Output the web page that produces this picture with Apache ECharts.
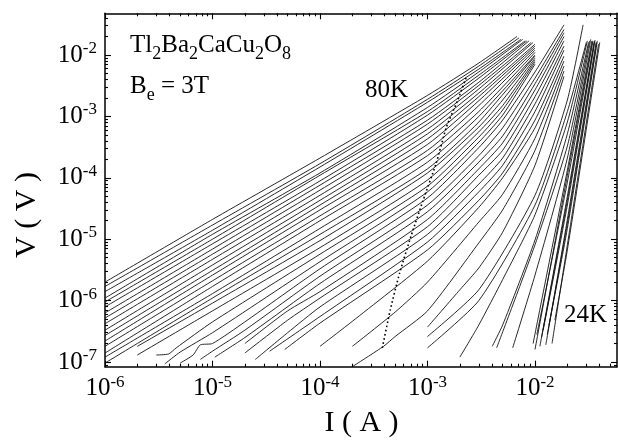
<!DOCTYPE html>
<html>
<head>
<meta charset="utf-8">
<script src="https://cdn.jsdelivr.net/npm/echarts@6/dist/echarts.min.js"></script>
<style>
  html, body { margin: 0; padding: 0; background: #fff; }
  #chart { width: 618px; height: 440px; }
</style>
</head>
<body>
<div id="chart"></div>
<script>
// V–I isotherms of Tl2Ba2CaCu2O8 at Be = 3 T, from 80 K (top left) down to 24 K (steep, right).
// Each point is [current I (A), voltage V (V)].
const c01 = [[1e-6,2.0e-6],[1e-5,2.1e-5],[1e-4,2.1e-4],[1e-3,2.2e-3],[3e-3,7.4e-3],[6.8e-3,2.0e-2]];
const c02 = [[1e-6,1.7e-6],[1e-5,1.7e-5],[1e-4,1.7e-4],[1e-3,1.9e-3],[3e-3,6.6e-3],[7.1e-3,1.9e-2]];
const c03 = [[1e-6,1.4e-6],[1e-5,1.4e-5],[1e-4,1.5e-4],[1e-3,1.7e-3],[3e-3,5.9e-3],[7.4e-3,1.8e-2]];
const c04 = [[1e-6,1.1e-6],[1e-5,1.2e-5],[1e-4,1.2e-4],[1e-3,1.4e-3],[3e-3,5.3e-3],[7.7e-3,1.8e-2]];
const c05 = [[1e-6,9.5e-7],[1e-5,1.0e-5],[1e-4,1.1e-4],[1e-3,1.2e-3],[3e-3,4.7e-3],[8.1e-3,1.7e-2]];
const c06 = [[1e-6,7.9e-7],[1e-5,8.4e-6],[1e-4,8.9e-5],[1e-3,1.05e-3],[3e-3,4.2e-3],[8.4e-3,1.7e-2]];
const c07 = [[1e-6,6.3e-7],[1e-5,6.9e-6],[1e-4,7.6e-5],[1e-3,8.7e-4],[3e-3,3.6e-3],[8.8e-3,1.7e-2]];
const c08 = [[1e-6,5.2e-7],[1e-5,5.7e-6],[1e-4,6.3e-5],[1e-3,7.5e-4],[3e-3,3.2e-3],[9.2e-3,1.6e-2]];
const c09 = [[1e-6,4.2e-7],[1e-5,4.7e-6],[1e-4,5.2e-5],[1e-3,6.2e-4],[3e-3,2.8e-3],[9.6e-3,1.6e-2]];
const c10 = [[1e-6,3.3e-7],[1e-5,3.8e-6],[1e-4,4.3e-5],[1e-3,5.2e-4],[3e-3,2.4e-3],[1e-2,1.5e-2]];
const c11 = [[1e-6,2.7e-7],[1e-5,3.1e-6],[1e-4,3.6e-5],[1e-3,4.3e-4],[3e-3,2.1e-3],[1e-2,1.4e-2]];
const c12 = [[1e-6,2.2e-7],[1e-5,2.6e-6],[1e-4,3.0e-5],[1e-3,3.5e-4],[3e-3,1.8e-3],[1e-2,1.3e-2]];
const c13 = [[1e-6,1.8e-7],[1e-5,2.1e-6],[1e-4,2.4e-5],[1e-3,2.8e-4],[3e-3,1.5e-3],[1e-2,1.2e-2]];
const c14 = [[1e-6,1.4e-7],[1e-5,1.7e-6],[1e-4,2.0e-5],[1e-3,2.3e-4],[3e-3,1.2e-3],[1e-2,1.1e-2]];
const c15 = [[1e-6,1.2e-7],[1e-5,1.3e-6],[1e-4,1.5e-5],[1e-3,1.8e-4],[3e-3,1.0e-3],[1e-2,1.0e-2]];
const c16 = [[1e-6,9.6e-8],[1e-5,1.1e-6],[1e-4,1.2e-5],[1e-3,1.4e-4],[3e-3,8.1e-4],[1e-2,9.6e-3]];
const c17 = [[2e-6,1.8e-7],[1e-5,9.1e-7],[1e-4,9.5e-6],[1e-3,1.2e-4],[3e-3,6.7e-4],[5e-3,1.85e-3],[1e-2,8.9e-3]];
const c18 = [[2e-6,1.3e-7],[1e-5,6.8e-7],[1e-4,7.3e-6],[1e-3,9.2e-5],[3e-3,5.6e-4],[5e-3,1.5e-3],[1e-2,8.3e-3]];
const c19 = [[3.0e-6,1.3e-7],[3.9e-6,1.35e-7],[4.6e-6,1.7e-7],[1e-5,4.5e-7],[1e-4,5.7e-6],[1e-3,7.3e-5],[3e-3,4.6e-4],[5e-3,1.27e-3],[1e-2,7.7e-3]];
const c20 = [[3.6e-6,9.3e-8],[5e-6,1.45e-7],[1e-5,3.0e-7],[1e-4,4.3e-6],[1e-3,5.9e-5],[3e-3,3.8e-4],[5e-3,1.05e-3],[1e-2,7.1e-3]];
const c21 = [[5e-6,9.6e-8],[6.6e-6,1.3e-7],[7.7e-6,1.9e-7],[1e-5,2.0e-7],[2e-5,4.5e-7],[1e-4,3.3e-6],[1e-3,4.7e-5],[3e-3,3.1e-4],[5e-3,8.7e-4],[1e-2,5.3e-3],[1.86e-2,3.1e-2]];
const c22 = [[7.7e-6,1.1e-7],[1e-5,1.5e-7],[2e-5,3.3e-7],[1e-4,2.5e-6],[1e-3,3.6e-5],[3e-3,2.3e-4],[5e-3,6.5e-4],[1e-2,4.2e-3],[1.86e-2,2.6e-2]];
const c23 = [[1.05e-5,1.2e-7],[2e-5,2.5e-7],[1e-4,1.9e-6],[1e-3,2.8e-5],[3e-3,1.8e-4],[5e-3,4.8e-4],[1e-2,3.4e-3],[1.86e-2,2.3e-2]];
const c24 = [[2e-5,2.0e-7],[5e-5,6.8e-7],[1e-4,1.4e-6],[1e-3,2.1e-5],[3e-3,1.4e-4],[5e-3,3.7e-4],[1e-2,2.7e-3],[1.86e-2,2.0e-2]];
const c25 = [[2e-5,1.4e-7],[5e-5,4.8e-7],[1e-4,1.1e-6],[1e-3,1.6e-5],[3e-3,1.1e-4],[5e-3,2.8e-4],[1e-2,2.1e-3],[1.86e-2,1.7e-2]];
const c26 = [[2.5e-5,1.1e-7],[5e-5,3.0e-7],[1e-4,7.9e-7],[1e-3,1.2e-5],[3e-3,7.9e-5],[5e-3,2.1e-4],[1e-2,1.6e-3],[1.86e-2,1.4e-2]];
const c27 = [[3.4e-5,1.5e-7],[1e-4,5.5e-7],[1e-3,9.0e-6],[3e-3,5.9e-5],[5e-3,1.6e-4],[1e-2,1.2e-3],[1.86e-2,1.2e-2]];
const c28 = [[4.7e-5,1.6e-7],[1e-4,4.3e-7],[1e-3,6.7e-6],[3e-3,4.3e-5],[5e-3,1.2e-4],[1e-2,8.7e-4],[1.86e-2,9.6e-3]];
const c29 = [[1e-4,1.8e-7],[2e-4,4.6e-7],[1e-3,4.4e-6],[3e-3,3.3e-5],[5e-3,1.0e-4],[1e-2,6.5e-4],[1.86e-2,8.0e-3]];
const c30 = [[2e-4,1.8e-7],[5e-4,6.5e-7],[1e-3,2.0e-6],[3e-3,1.9e-5],[5e-3,5.4e-5],[1e-2,4.4e-4],[1.86e-2,6.6e-3]];
const c31 = [[2e-4,8.4e-8],[3.9e-4,1.8e-7],[5e-4,2.6e-7],[1e-3,6.8e-7],[3e-3,8.7e-6],[5e-3,3.0e-5],[1e-2,2.8e-4],[1.86e-2,5.5e-3]];
const c32 = [[1e-3,3.7e-7],[2e-3,1.5e-6],[3e-3,3.4e-6],[5e-3,1.3e-5],[1e-2,1.6e-4],[1.86e-2,4.5e-3]];
const c33 = [[1e-3,2.6e-7],[3e-3,1.5e-6],[1e-2,5.2e-5],[2e-2,1.85e-3],[2.8e-2,3.1e-2]];
const c34 = [[1e-3,1.7e-7],[3e-3,1.0e-6],[1e-2,3.6e-5],[2e-2,1.2e-3],[3.0e-2,1.6e-2]];
const c35 = [[2e-3,1.2e-7],[3e-3,4.0e-7],[5e-3,2.2e-6],[1e-2,2.5e-5],[2e-2,8.1e-4],[3.07e-2,1.7e-2]];
const c36 = [[4.0e-3,1.8e-7],[5e-3,4.0e-7],[1e-2,9.7e-6],[2e-2,5.2e-4],[3.15e-2,1.6e-2]];
const c37 = [[4.4e-3,1.7e-7],[1e-2,8.1e-6],[2e-2,3.3e-4],[3.22e-2,1.7e-2]];
const c38 = [[6.2e-3,1.7e-7],[1e-2,2.6e-6],[2e-2,2.1e-4],[3.3e-2,1.8e-2]];
const c39 = [[9.6e-3,2.0e-7],[2e-2,1.34e-4],[3.38e-2,1.7e-2]];
const c40 = [[1.0e-2,1.6e-7],[2e-2,1.1e-4],[3.42e-2,1.65e-2]];
const c41 = [[1.04e-2,2.8e-7],[2e-2,8.5e-5],[3.46e-2,1.7e-2]];
const c42 = [[1.11e-2,1.8e-7],[2e-2,5.0e-5],[3.54e-2,1.6e-2]];
const c43 = [[1.15e-2,2.5e-7],[2e-2,4.3e-5],[3.58e-2,1.7e-2]];
const c44 = [[1.19e-2,3.3e-7],[2e-2,3.6e-5],[3.62e-2,1.75e-2]];
const c45 = [[1.26e-2,1.9e-7],[2e-2,2.1e-5],[3.7e-2,1.6e-2]];
const c46 = [[1.3e-2,2.8e-7],[2e-2,1.8e-5],[3.75e-2,1.6e-2]];
const c47 = [[1.35e-2,4.0e-7],[2e-2,1.5e-5],[3.8e-2,1.7e-2]];
const c48 = [[1.44e-2,2.0e-7],[2e-2,8.1e-6],[3.9e-2,1.5e-2]];
const c49 = [[1.53e-2,4.8e-7],[2e-2,6.7e-6],[4.0e-2,1.6e-2]];

// Dotted crossover line drawn across the family
const crossover = [[3.8e-4,1.7e-7],[4.5e-4,7.0e-7],[5.5e-4,2.8e-6],[7.0e-4,1.1e-5],[9.1e-4,4.3e-5],[1.2e-3,1.7e-4],[1.5e-3,6.7e-4],[1.9e-3,1.8e-3],[2.3e-3,4.4e-3]];

// Axis ranges and labelled decades
const currentRange = [9.999e-7, 0.0579];
const voltageRange = [8.38e-8, 0.0478];
const currentDecades = [1e-6, 1e-5, 1e-4, 1e-3, 1e-2];
const voltageDecades = [1e-7, 1e-6, 1e-5, 1e-4, 1e-3, 1e-2];

const isotherms = [c01,c02,c03,c04,c05,c06,c07,c08,c09,c10,c11,c12,c13,c14,c15,c16,c17,c18,c19,c20,
  c21,c22,c23,c24,c25,c26,c27,c28,c29,c30,c31,c32,c33,c34,c35,c36,c37,c38,c39,c40,c41,c42,c43,c44,c45,
  c46,c47,c48,c49];

const SERIF = 'Liberation Serif, Times New Roman, serif';

// 2..9 sub-decade tick values inside a range
function subDecades(decades, range) {
  const out = [];
  const all = [decades[0] / 10].concat(decades);
  all.forEach(d => {
    for (let m = 2; m <= 9; m++) {
      const v = +(m * d).toPrecision(3);
      if (v > range[0] && v < range[1]) out.push(v);
    }
  });
  return out;
}

const labelRich = {
  n: { fontFamily: SERIF, fontSize: 25, lineHeight: 30, color: '#000' },
  p: { fontFamily: SERIF, fontSize: 17, lineHeight: 17, verticalAlign: 'top', color: '#000' }
};
function powerLabel(v) {
  const e = Math.round(Math.log10(v));
  return '{n|10}{p|' + e + '}';
}

function logAxis(range, position, decades, opts) {
  const major = opts.major;
  return {
    type: 'log', logBase: 10, min: range[0], max: range[1], position: position,
    splitLine: { show: false }, minorTick: { show: false }, minorSplitLine: { show: false },
    axisLine: { show: major, onZero: false, lineStyle: { color: '#000', width: 1.5 } },
    axisTick: {
      show: true, inside: true, length: major ? 6 : 3,
      customValues: major ? decades : subDecades(decades, range),
      lineStyle: { color: '#000', width: 1.1 }
    },
    axisLabel: opts.labels ? {
      show: true, customValues: decades, formatter: powerLabel, rich: labelRich,
      margin: opts.margin
    } : { show: false },
    silent: true
  };
}

const series = isotherms.map(d => ({
  type: 'line', data: d, symbol: 'none', showSymbol: false,
  smooth: 0.2, silent: true,
  lineStyle: { color: '#111', width: 0.9 }
}));
series.push({
  type: 'line', data: crossover, symbol: 'none', showSymbol: false,
  smooth: 0.2, silent: true,
  lineStyle: { color: '#000', width: 1.6, type: [1.6, 2.6] }
});

const chart = echarts.init(document.getElementById('chart'), null, { renderer: 'canvas' });
chart.setOption({
  animation: false,
  backgroundColor: '#fff',
  grid: { left: 105, top: 13.3, width: 512, height: 353.4, containLabel: false, outerBoundsMode: 'none' },
  xAxis: [
    logAxis(currentRange, 'bottom', currentDecades, { major: true, labels: true, margin: 7 }),
    logAxis(currentRange, 'bottom', currentDecades, { major: false }),
    logAxis(currentRange, 'top', currentDecades, { major: true }),
    logAxis(currentRange, 'top', currentDecades, { major: false })
  ],
  yAxis: [
    logAxis(voltageRange, 'left', voltageDecades, { major: true, labels: true, margin: 8 }),
    logAxis(voltageRange, 'left', voltageDecades, { major: false }),
    logAxis(voltageRange, 'right', voltageDecades, { major: true }),
    logAxis(voltageRange, 'right', voltageDecades, { major: false })
  ],
  series: series,
  graphic: [
    {
      type: 'text', left: 130, top: 33, silent: true,
      style: {
        text: '{b|Tl}{s|2}{b|Ba}{s|2}{b|CaCu}{s|2}{b|O}{s|8}',
        rich: {
          b: { fontFamily: SERIF, fontSize: 25, lineHeight: 36, fill: '#000' },
          s: { fontFamily: SERIF, fontSize: 18, lineHeight: 18, verticalAlign: 'bottom', fill: '#000' }
        }
      }
    },
    {
      type: 'text', left: 130, top: 73.5, silent: true,
      style: {
        text: '{b|B}{s|e}{b| = 3T}',
        rich: {
          b: { fontFamily: SERIF, fontSize: 25, lineHeight: 36, fill: '#000' },
          s: { fontFamily: SERIF, fontSize: 18, lineHeight: 18, verticalAlign: 'bottom', fill: '#000' }
        }
      }
    },
    {
      type: 'text', left: 365, top: 77.5, silent: true,
      style: { text: '80K', font: '25px ' + SERIF, fill: '#000' }
    },
    {
      type: 'text', left: 564, top: 302.5, silent: true,
      style: { text: '24K', font: '25px ' + SERIF, fill: '#000' }
    },
    {
      type: 'text', x: 361.5, y: 423, silent: true,
      style: { text: 'I ( A )', font: '30px ' + SERIF, fill: '#000', align: 'center', verticalAlign: 'middle' }
    },
    {
      type: 'text', x: 27, y: 215, rotation: Math.PI / 2, silent: true,
      style: { text: 'V ( V )', font: '30px ' + SERIF, fill: '#000', align: 'center', verticalAlign: 'middle' }
    }
  ]
});
</script>
</body>
</html>
